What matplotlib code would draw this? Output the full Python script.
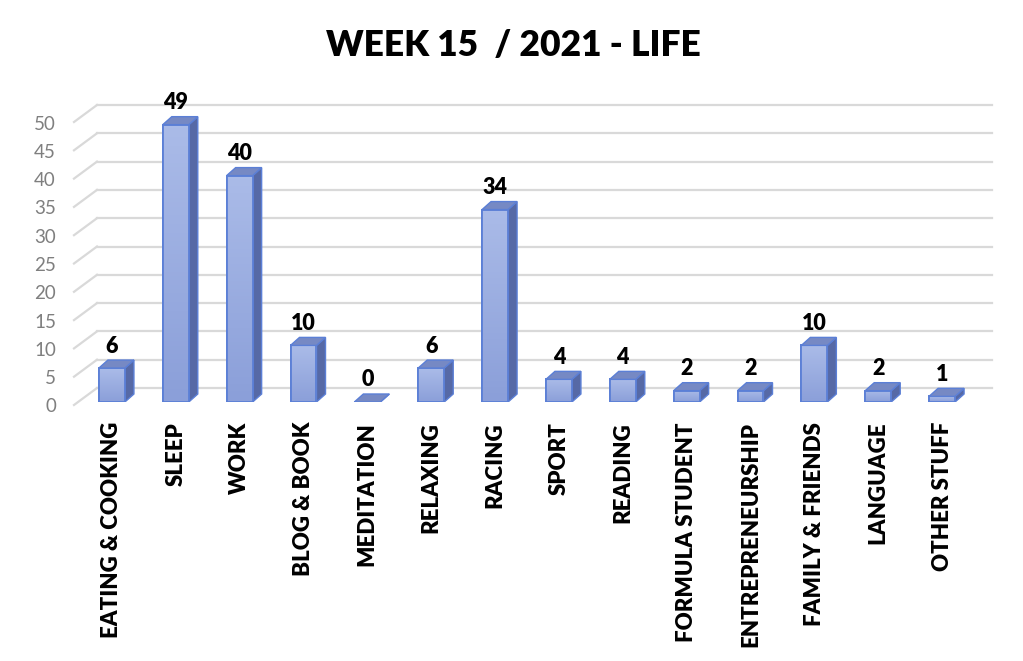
import matplotlib
matplotlib.use("Agg")
import numpy as np
import matplotlib.pyplot as plt
from matplotlib.patches import Polygon
from matplotlib.colors import LinearSegmentedColormap
import matplotlib.transforms as mtransforms

plt.rcParams['font.family'] = ['Lato', 'DejaVu Sans']

categories = ['EATING & COOKING', 'SLEEP', 'WORK', 'BLOG & BOOK', 'MEDITATION',
              'RELAXING', 'RACING', 'SPORT', 'READING', 'FORMULA STUDENT',
              'ENTREPRENEURSHIP', 'FAMILY & FRIENDS', 'LANGUAGE', 'OTHER STUFF']
hours = [6, 49, 40, 10, 0, 6, 34, 4, 4, 2, 2, 10, 2, 1]
yticks = [0, 5, 10, 15, 20, 25, 30, 35, 40, 45, 50]
title = 'WEEK 15  / 2021 - LIFE'

W, H = 1023, 661
fig = plt.figure(figsize=(W / 100, H / 100), dpi=100)

# axes placed so that x = -0.5..13.5 covers px 80..974 and y = 0 sits at px 402
px_x = 63.86
px_y = 5.66
ax_left, ax_right = 80, 974
ax_base = 402
ymax = 55
ax = fig.add_axes([ax_left / W, (H - ax_base) / H, (ax_right - ax_left) / W, ymax * px_y / H])
ax.set_xlim(-0.5, len(categories) - 0.5)
ax.set_ylim(0, ymax)
ax.axis('off')

def dx(p):
    return p / px_x

def dy(p):
    return p / px_y

grid_col = '#d9d9d9'
# back wall gridlines + slanted floor/side lines
for v in yticks:
    yb = v + dy(14)
    ax.plot([dx(97 - ax_left) - 0.5, dx(992 - ax_left) - 0.5], [yb, yb],
            color=grid_col, lw=1.6, clip_on=False, zorder=1)
    ax.plot([dx(74 - ax_left) - 0.5, dx(97 - ax_left) - 0.5], [v - dy(3), yb],
            color=grid_col, lw=1.6, clip_on=False, zorder=1)
    ax.text(dx(56 - ax_left) - 0.5, v - dy(5), str(v), ha='right', va='center',
            fontsize=13.5, color='#7f7f7f', clip_on=False)

# bars with fake depth
bw = dx(26)
ddx, ddy = dx(9), dy(8)
grad = LinearSegmentedColormap.from_list('front', ['#8b9fd9', '#aabbe8'])
edge_col = '#5b7fd6'
side_col = '#5669a6'
top_col = '#7689c4'
for i, v in enumerate(hours):
    x0, x1 = i - bw / 2, i + bw / 2
    bar = ax.bar(i, v, width=bw, color='#9cafe2', edgecolor=edge_col, lw=1.3, zorder=3)[0]
    if v > 0:
        img = ax.imshow(np.linspace(0, 1, 64).reshape(-1, 1), cmap=grad, origin='lower',
                        extent=[x0, x1, 0, v], aspect='auto', zorder=3.1)
        img.set_clip_path(bar)
        ax.bar(i, v, width=bw, fill=False, edgecolor=edge_col, lw=1.3, zorder=3.2)
    side = Polygon([(x1, 0), (x1 + ddx, ddy), (x1 + ddx, v + ddy), (x1, v)],
                   closed=True, facecolor=side_col, edgecolor=edge_col, lw=1.0, zorder=2)
    top = Polygon([(x0, v), (x1, v), (x1 + ddx, v + ddy), (x0 + ddx, v + ddy)],
                  closed=True, facecolor=top_col, edgecolor=edge_col, lw=1.0, zorder=4)
    ax.add_patch(side)
    ax.add_patch(top)
    ax.annotate(str(v), (i, v), xytext=(0, 22), textcoords='offset pixels',
                ha='center', va='center', fontsize=15.5, fontweight='heavy',
                color='black', zorder=5, annotation_clip=False)

ax.set_xlim(-0.5, len(categories) - 0.5)
ax.set_ylim(0, ymax)

# rotated category labels under the bars
trans = mtransforms.blended_transform_factory(ax.transData, fig.transFigure)
for i, name in enumerate(categories):
    ax.text(i, 1 - 422 / H, name, transform=trans, rotation=90, ha='center', va='top',
            fontsize=16, fontweight='heavy', color='black')

fig.text(513 / W, 1 - 45 / H, title, ha='center', va='center',
         fontsize=25.5, fontweight='heavy', color='black')

fig.savefig('out.png', dpi=100)
